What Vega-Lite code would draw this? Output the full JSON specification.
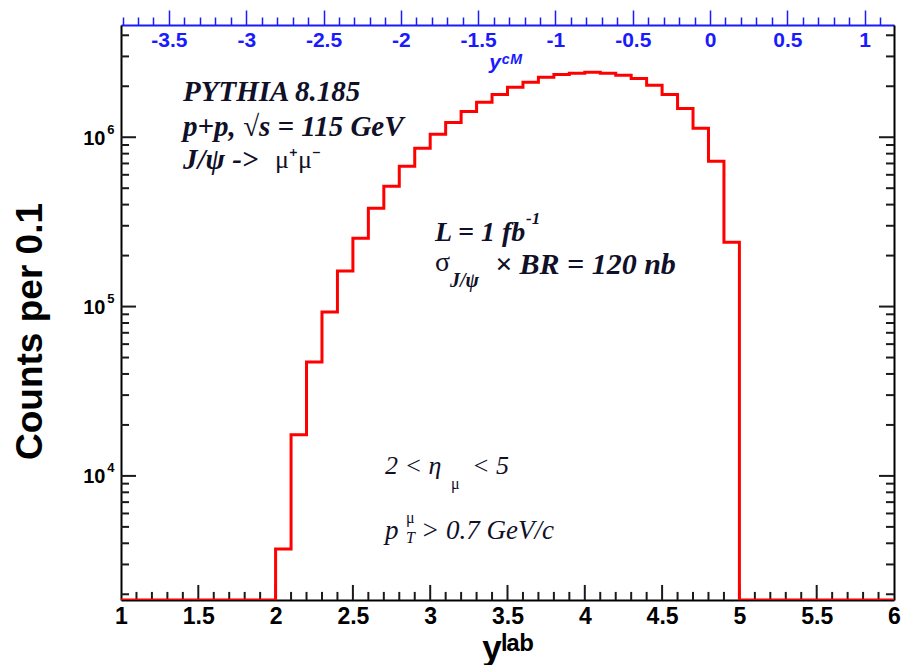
{
  "$schema": "https://vega.github.io/schema/vega-lite/v6.json",
  "width": 773,
  "height": 575,
  "autosize": "none",
  "padding": {"left": 121, "top": 25, "right": 8, "bottom": 65},
  "background": "white",
  "config": {
    "view": {"stroke": null},
    "axis": {"grid": false, "labelFlush": false, "labelOverlap": false}
  },
  "datasets": {
    "hist": [
      {"y_lab": 1.0, "counts": 0}, {"y_lab": 1.1, "counts": 0}, {"y_lab": 1.2, "counts": 0}, {"y_lab": 1.3, "counts": 0}, {"y_lab": 1.4, "counts": 0},
      {"y_lab": 1.5, "counts": 0}, {"y_lab": 1.6, "counts": 0}, {"y_lab": 1.7, "counts": 0}, {"y_lab": 1.8, "counts": 0}, {"y_lab": 1.9, "counts": 0},
      {"y_lab": 2.0, "counts": 3700}, {"y_lab": 2.1, "counts": 17500}, {"y_lab": 2.2, "counts": 47000}, {"y_lab": 2.3, "counts": 93000}, {"y_lab": 2.4, "counts": 162000},
      {"y_lab": 2.5, "counts": 253000}, {"y_lab": 2.6, "counts": 381000}, {"y_lab": 2.7, "counts": 514000}, {"y_lab": 2.8, "counts": 674000}, {"y_lab": 2.9, "counts": 861000},
      {"y_lab": 3.0, "counts": 1040000}, {"y_lab": 3.1, "counts": 1220000}, {"y_lab": 3.2, "counts": 1420000}, {"y_lab": 3.3, "counts": 1610000}, {"y_lab": 3.4, "counts": 1790000},
      {"y_lab": 3.5, "counts": 1970000}, {"y_lab": 3.6, "counts": 2110000}, {"y_lab": 3.7, "counts": 2260000}, {"y_lab": 3.8, "counts": 2350000}, {"y_lab": 3.9, "counts": 2390000},
      {"y_lab": 4.0, "counts": 2420000}, {"y_lab": 4.1, "counts": 2390000}, {"y_lab": 4.2, "counts": 2320000}, {"y_lab": 4.3, "counts": 2220000}, {"y_lab": 4.4, "counts": 2030000},
      {"y_lab": 4.5, "counts": 1790000}, {"y_lab": 4.6, "counts": 1480000}, {"y_lab": 4.7, "counts": 1130000}, {"y_lab": 4.8, "counts": 721000}, {"y_lab": 4.9, "counts": 240000},
      {"y_lab": 5.0, "counts": 0}, {"y_lab": 5.1, "counts": 0}, {"y_lab": 5.2, "counts": 0}, {"y_lab": 5.3, "counts": 0}, {"y_lab": 5.4, "counts": 0},
      {"y_lab": 5.5, "counts": 0}, {"y_lab": 5.6, "counts": 0}, {"y_lab": 5.7, "counts": 0}, {"y_lab": 5.8, "counts": 0}, {"y_lab": 5.9, "counts": 0},
      {"y_lab": 6.0, "counts": 0}
    ],
    "x_major_ticks": [{"v": 1.5}, {"v": 2}, {"v": 2.5}, {"v": 3}, {"v": 3.5}, {"v": 4}, {"v": 4.5}, {"v": 5}, {"v": 5.5}],
    "x_minor_ticks": [{"v": 1.1}, {"v": 1.2}, {"v": 1.3}, {"v": 1.4}, {"v": 1.6}, {"v": 1.7}, {"v": 1.8}, {"v": 1.9}, {"v": 2.1}, {"v": 2.2}, {"v": 2.3}, {"v": 2.4}, {"v": 2.6}, {"v": 2.7}, {"v": 2.8}, {"v": 2.9}, {"v": 3.1}, {"v": 3.2}, {"v": 3.3}, {"v": 3.4}, {"v": 3.6}, {"v": 3.7}, {"v": 3.8}, {"v": 3.9}, {"v": 4.1}, {"v": 4.2}, {"v": 4.3}, {"v": 4.4}, {"v": 4.6}, {"v": 4.7}, {"v": 4.8}, {"v": 4.9}, {"v": 5.1}, {"v": 5.2}, {"v": 5.3}, {"v": 5.4}, {"v": 5.6}, {"v": 5.7}, {"v": 5.8}, {"v": 5.9}],
    "y_major_ticks": [{"v": 10000}, {"v": 100000}, {"v": 1000000}],
    "y_minor_ticks": [{"v": 2000}, {"v": 3000}, {"v": 4000}, {"v": 5000}, {"v": 6000}, {"v": 7000}, {"v": 8000}, {"v": 9000}, {"v": 20000}, {"v": 30000}, {"v": 40000}, {"v": 50000}, {"v": 60000}, {"v": 70000}, {"v": 80000}, {"v": 90000}, {"v": 200000}, {"v": 300000}, {"v": 400000}, {"v": 500000}, {"v": 600000}, {"v": 700000}, {"v": 800000}, {"v": 900000}, {"v": 2000000}, {"v": 3000000}, {"v": 4000000}]
  },
  "layer": [
    {
      "layer": [
        {
          "data": {"name": "x_major_ticks"},
          "mark": {"type": "rule", "color": "#1a1a1a", "strokeWidth": 2, "opacity": 1},
          "encoding": {
            "x": {"field": "v", "type": "quantitative", "scale": {"domain": [1, 6], "nice": false, "zero": false}, "axis": null},
            "y": {"datum": 1850, "type": "quantitative", "scale": {"type": "log", "domain": [1850, 4600000], "nice": false, "zero": false, "clamp": true}, "axis": null},
            "y2": {"datum": 2270}
          }
        },
        {
          "data": {"name": "x_minor_ticks"},
          "mark": {"type": "rule", "color": "#1a1a1a", "strokeWidth": 2, "opacity": 1},
          "encoding": {
            "x": {"field": "v", "type": "quantitative", "axis": null},
            "y": {"datum": 1850, "type": "quantitative", "axis": null},
            "y2": {"datum": 2065}
          }
        },
        {
          "data": {"name": "y_major_ticks"},
          "mark": {"type": "rule", "color": "#1a1a1a", "strokeWidth": 2, "opacity": 1},
          "encoding": {
            "y": {"field": "v", "type": "quantitative", "axis": null},
            "x": {"datum": 1, "type": "quantitative", "axis": null},
            "x2": {"datum": 1.097}
          }
        },
        {
          "data": {"name": "y_minor_ticks"},
          "mark": {"type": "rule", "color": "#1a1a1a", "strokeWidth": 2, "opacity": 1},
          "encoding": {
            "y": {"field": "v", "type": "quantitative", "axis": null},
            "x": {"datum": 1, "type": "quantitative", "axis": null},
            "x2": {"datum": 1.052}
          }
        },
        {
          "data": {"name": "y_major_ticks"},
          "mark": {"type": "rule", "color": "#1a1a1a", "strokeWidth": 2, "opacity": 1},
          "encoding": {
            "y": {"field": "v", "type": "quantitative", "axis": null},
            "x": {"datum": 5.903, "type": "quantitative", "axis": null},
            "x2": {"datum": 6}
          }
        },
        {
          "data": {"name": "y_minor_ticks"},
          "mark": {"type": "rule", "color": "#1a1a1a", "strokeWidth": 2, "opacity": 1},
          "encoding": {
            "y": {"field": "v", "type": "quantitative", "axis": null},
            "x": {"datum": 5.948, "type": "quantitative", "axis": null},
            "x2": {"datum": 6}
          }
        },
        {
          "data": {"values": [{}]},
          "mark": {"type": "point", "opacity": 0},
          "encoding": {
            "y": {
              "datum": 100000, "type": "quantitative",
              "axis": {
                "orient": "right", "values": [10000, 100000, 1000000],
                "ticks": false, "labels": false, "domain": true, "domainColor": "black", "domainWidth": 2, "title": null
              }
            }
          }
        },
        {
          "data": {"values": [{}]},
          "mark": {"type": "point", "opacity": 0},
          "encoding": {
            "y": {
              "datum": 100000, "type": "quantitative",
              "axis": {
                "orient": "left", "values": [10000, 100000, 1000000],
                "labelExpr": "datum.value >= 1000000 ? '6' : datum.value >= 100000 ? '5' : '4'",
                "ticks": false, "domain": false, "labelPadding": 7, "labelOffset": -8,
                "labelFont": "Liberation Sans", "labelFontWeight": "bold", "labelFontSize": 13, "labelColor": "black", "title": null
              }
            }
          }
        },
        {
          "data": {"name": "hist"},
          "mark": {"type": "line", "interpolate": "step-after", "color": "#ff0000", "strokeWidth": 3, "clip": true},
          "encoding": {
            "x": {
              "field": "y_lab", "type": "quantitative",
              "axis": {
                "orient": "bottom", "values": [1, 1.5, 2, 2.5, 3, 3.5, 4, 4.5, 5, 5.5, 6], "format": "~g",
                "ticks": false, "domainColor": "black", "domainWidth": 2,
                "labelFont": "Liberation Sans", "labelFontWeight": "bold", "labelFontSize": 23, "labelColor": "black", "labelPadding": 5,
                "title": "yˡᵃᵇ", "titleFont": "Liberation Sans", "titleFontWeight": "bold", "titleFontSize": 35, "titleColor": "black", "titlePadding": 3
              }
            },
            "y": {
              "field": "counts", "type": "quantitative",
              "axis": {
                "orient": "left", "values": [10000, 100000, 1000000],
                "labelExpr": "'10'",
                "ticks": false, "domainColor": "black", "domainWidth": 2,
                "labelFont": "Liberation Sans", "labelFontWeight": "bold", "labelFontSize": 20, "labelColor": "black", "labelPadding": 16, "labelOffset": 1,
                "title": "Counts per 0.1", "titleFont": "Liberation Sans", "titleFontWeight": "bold", "titleFontSize": 37, "titleColor": "black",
                "titleX": -91, "titleY": 306, "titleBaseline": "middle", "titleAngle": 270
              }
            }
          }
        },
        {
          "data": {"values": [{}]},
          "mark": {"type": "text", "text": "PYTHIA 8.185", "align": "left", "baseline": "middle", "font": "Liberation Serif", "fontStyle": "italic", "fontWeight": "bold", "fontSize": 29, "color": "#101028"},
          "encoding": {"x": {"datum": 1.401, "type": "quantitative", "axis": null}, "y": {"datum": 1843000, "type": "quantitative", "axis": null}}
        },
        {
          "data": {"values": [{}]},
          "mark": {"type": "text", "text": "p+p,  √s = 115 GeV", "align": "left", "baseline": "middle", "font": "Liberation Serif", "fontStyle": "italic", "fontWeight": "bold", "fontSize": 29, "color": "#101028"},
          "encoding": {"x": {"datum": 1.401, "type": "quantitative", "axis": null}, "y": {"datum": 1146000, "type": "quantitative", "axis": null}}
        },
        {
          "data": {"values": [{}]},
          "mark": {"type": "text", "text": "J/ψ ->", "align": "left", "baseline": "middle", "font": "Liberation Serif", "fontStyle": "italic", "fontWeight": "bold", "fontSize": 29, "color": "#101028"},
          "encoding": {"x": {"datum": 1.401, "type": "quantitative", "axis": null}, "y": {"datum": 732000, "type": "quantitative", "axis": null}}
        },
        {
          "data": {"values": [{}]},
          "mark": {"type": "text", "text": "μ⁺μ⁻", "align": "left", "baseline": "middle", "font": "Liberation Serif", "fontSize": 26, "color": "#101028"},
          "encoding": {"x": {"datum": 1.996, "type": "quantitative", "axis": null}, "y": {"datum": 732000, "type": "quantitative", "axis": null}}
        },
        {
          "data": {"values": [{}]},
          "mark": {"type": "text", "text": "L = 1 fb", "align": "left", "baseline": "middle", "font": "Liberation Serif", "fontStyle": "italic", "fontWeight": "bold", "fontSize": 28, "color": "#101028"},
          "encoding": {"x": {"datum": 3.031, "type": "quantitative", "axis": null}, "y": {"datum": 271000, "type": "quantitative", "axis": null}}
        },
        {
          "data": {"values": [{}]},
          "mark": {"type": "text", "text": "-1", "align": "left", "baseline": "middle", "font": "Liberation Serif", "fontStyle": "italic", "fontWeight": "bold", "fontSize": 17, "color": "#101028"},
          "encoding": {"x": {"datum": 3.62, "type": "quantitative", "axis": null}, "y": {"datum": 330000, "type": "quantitative", "axis": null}}
        },
        {
          "data": {"values": [{}]},
          "mark": {"type": "text", "text": "σ", "align": "left", "baseline": "middle", "font": "Liberation Serif", "fontSize": 28, "color": "#101028"},
          "encoding": {"x": {"datum": 3.031, "type": "quantitative", "axis": null}, "y": {"datum": 180000, "type": "quantitative", "axis": null}}
        },
        {
          "data": {"values": [{}]},
          "mark": {"type": "text", "text": "J/ψ", "align": "left", "baseline": "middle", "font": "Liberation Serif", "fontStyle": "italic", "fontWeight": "bold", "fontSize": 20, "color": "#101028"},
          "encoding": {"x": {"datum": 3.128, "type": "quantitative", "axis": null}, "y": {"datum": 141000, "type": "quantitative", "axis": null}}
        },
        {
          "data": {"values": [{}]},
          "mark": {"type": "text", "text": "× BR = 120 nb", "align": "left", "baseline": "middle", "font": "Liberation Serif", "fontStyle": "italic", "fontWeight": "bold", "fontSize": 30, "color": "#101028"},
          "encoding": {"x": {"datum": 3.419, "type": "quantitative", "axis": null}, "y": {"datum": 176000, "type": "quantitative", "axis": null}}
        },
        {
          "data": {"values": [{}]},
          "mark": {"type": "text", "text": "2 < η", "align": "left", "baseline": "middle", "font": "Liberation Serif", "fontStyle": "italic", "fontSize": 26, "color": "#101028"},
          "encoding": {"x": {"datum": 2.708, "type": "quantitative", "axis": null}, "y": {"datum": 11400, "type": "quantitative", "axis": null}}
        },
        {
          "data": {"values": [{}]},
          "mark": {"type": "text", "text": "μ", "align": "left", "baseline": "middle", "font": "Liberation Serif", "fontSize": 16, "color": "#101028"},
          "encoding": {"x": {"datum": 3.135, "type": "quantitative", "axis": null}, "y": {"datum": 8920, "type": "quantitative", "axis": null}}
        },
        {
          "data": {"values": [{}]},
          "mark": {"type": "text", "text": "< 5", "align": "left", "baseline": "middle", "font": "Liberation Serif", "fontStyle": "italic", "fontSize": 26, "color": "#101028"},
          "encoding": {"x": {"datum": 3.27, "type": "quantitative", "axis": null}, "y": {"datum": 11400, "type": "quantitative", "axis": null}}
        },
        {
          "data": {"values": [{}]},
          "mark": {"type": "text", "text": "p", "align": "left", "baseline": "middle", "font": "Liberation Serif", "fontStyle": "italic", "fontSize": 27, "color": "#101028"},
          "encoding": {"x": {"datum": 2.708, "type": "quantitative", "axis": null}, "y": {"datum": 4710, "type": "quantitative", "axis": null}}
        },
        {
          "data": {"values": [{}]},
          "mark": {"type": "text", "text": "μ", "align": "left", "baseline": "middle", "font": "Liberation Serif", "fontSize": 16, "color": "#101028"},
          "encoding": {"x": {"datum": 2.843, "type": "quantitative", "axis": null}, "y": {"datum": 5620, "type": "quantitative", "axis": null}}
        },
        {
          "data": {"values": [{}]},
          "mark": {"type": "text", "text": "T", "align": "left", "baseline": "middle", "font": "Liberation Serif", "fontStyle": "italic", "fontSize": 16, "color": "#101028"},
          "encoding": {"x": {"datum": 2.843, "type": "quantitative", "axis": null}, "y": {"datum": 4280, "type": "quantitative", "axis": null}}
        },
        {
          "data": {"values": [{}]},
          "mark": {"type": "text", "text": "> 0.7 GeV/c", "align": "left", "baseline": "middle", "font": "Liberation Serif", "fontStyle": "italic", "fontSize": 27, "color": "#101028"},
          "encoding": {"x": {"datum": 2.941, "type": "quantitative", "axis": null}, "y": {"datum": 4710, "type": "quantitative", "axis": null}}
        }
      ],
      "resolve": {"axis": {"x": "independent", "y": "independent"}}
    },
    {
      "layer": [
        {
          "data": {"values": [{}]},
          "mark": {"type": "point", "opacity": 0},
          "encoding": {
            "x": {
              "datum": 0, "type": "quantitative",
              "scale": {"domain": [-3.81, 1.19], "nice": false, "zero": false},
              "axis": {
                "orient": "top", "values": [-3.5, -3, -2.5, -2, -1.5, -1, -0.5, 0, 0.5, 1],
                "labelExpr": "datum.value < 0 ? '-' + format(-datum.value, '~g') : format(datum.value, '~g')",
                "tickSize": 15, "tickWidth": 1.5, "tickColor": "#1a1aff", "domainColor": "#1a1aff", "domainWidth": 2,
                "labelFont": "Liberation Sans", "labelFontWeight": "bold", "labelFontSize": 21, "labelColor": "#1a1aff", "labelPadding": -30, "labelBaseline": "middle",
                "title": "yᶜᴹ", "titleFont": "Liberation Sans", "titleFontStyle": "italic", "titleFontSize": 21, "titleColor": "#1a1aff", "titleY": 37, "titleX": 384, "titleBaseline": "middle"
              }
            }
          }
        },
        {
          "data": {"values": [{}]},
          "mark": {"type": "point", "opacity": 0},
          "encoding": {
            "x": {
              "datum": 0, "type": "quantitative",
              "scale": {"domain": [-3.81, 1.19], "nice": false, "zero": false},
              "axis": {
                "orient": "top", "values": [-3.8, -3.7, -3.6, -3.4, -3.3, -3.2, -3.1, -2.9, -2.8, -2.7, -2.6, -2.4, -2.3, -2.2, -2.1, -1.9, -1.8, -1.7, -1.6, -1.4, -1.3, -1.2, -1.1, -0.9, -0.8, -0.7, -0.6, -0.4, -0.3, -0.2, -0.1, 0.1, 0.2, 0.3, 0.4, 0.6, 0.7, 0.8, 0.9, 1.1],
                "tickSize": 8, "tickWidth": 1.5, "tickColor": "#1a1aff", "domain": false, "labels": false, "title": null
              }
            }
          }
        }
      ],
      "resolve": {"axis": {"x": "independent"}}
    }
  ],
  "resolve": {"scale": {"x": "independent"}, "axis": {"x": "independent", "y": "independent"}}
}
